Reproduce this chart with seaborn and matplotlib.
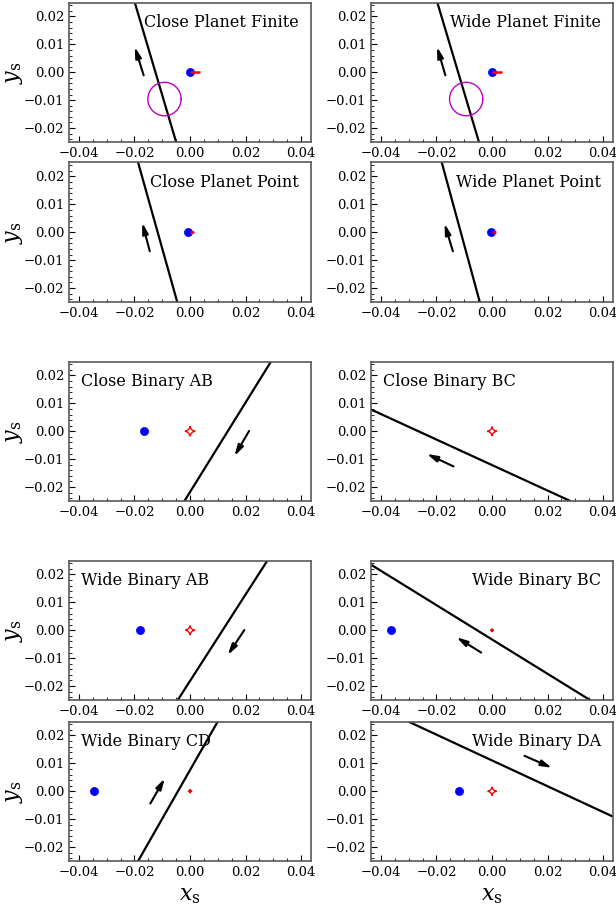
import numpy as np
import pandas as pd
import matplotlib
matplotlib.use("Agg")
import matplotlib.pyplot as plt
from matplotlib.ticker import AutoMinorLocator, MultipleLocator
import seaborn as sns

# ---------------- data ----------------
titles = ["Close Planet Finite", "Wide Planet Finite",
          "Close Planet Point", "Wide Planet Point",
          "Close Binary AB", "Close Binary BC",
          "Wide Binary AB", "Wide Binary BC",
          "Wide Binary CD", "Wide Binary DA"]
title_side = ["right", "right", "right", "right", "left", "left",
              "left", "right", "left", "right"]

# source trajectory (two end points)
traj_x0 = [-0.0199, -0.0197, -0.0187, -0.0181, -0.0020, -0.0436, -0.0044, -0.0436, -0.0187, -0.0302]
traj_y0 = [0.025, 0.025, 0.025, 0.025, -0.025, 0.0078, -0.025, 0.0235, -0.025, 0.025]
traj_x1 = [-0.0050, -0.0047, -0.0046, -0.0044, 0.0292, 0.0282, 0.0279, 0.0353, 0.0100, 0.0436]
traj_y1 = [-0.025, -0.025, -0.025, -0.025, 0.025, -0.025, 0.025, -0.025, 0.025, -0.0091]

# direction arrows (start -> tip)
arr_x0 = [-0.0167, -0.0168, -0.0145, -0.0141, 0.0213, -0.0139, 0.0196, -0.0039, -0.0143, 0.0117]
arr_y0 = [-0.0011, -0.0011, -0.0068, -0.0068, 0.0001, -0.0126, 0.0001, -0.0080, -0.0044, 0.0127]
arr_x1 = [-0.0199, -0.0198, -0.0172, -0.0171, 0.0160, -0.0235, 0.0136, -0.0128, -0.0091, 0.0216]
arr_y1 = [0.0091, 0.0091, 0.0034, 0.0031, -0.0089, -0.0081, -0.0089, -0.0025, 0.0046, 0.0084]

# lens position (blue dot); None = outside view
lens_x = [0.0, 0.0, -0.0008, -0.0005, -0.0167, None, -0.0179, -0.0364, -0.0345, -0.0119]
lens_y = [0.0, 0.0, 0.0, 0.0, 0.0, None, 0.0, 0.0, 0.0, 0.0]

# caustics: planets -> red segment length; binaries -> astroid half-size
caustic_kind = ["seg", "seg", "seg", "seg", "ast", "ast", "ast", "ast", "ast", "ast"]
caustic_size = [0.0035, 0.0037, 0.0013, 0.0013, 0.0017, 0.0016, 0.0016, 0.0005, 0.0006, 0.0015]

# finite source circle
circ_x = [-0.0092, -0.0093, None, None, None, None, None, None, None, None]
circ_y = [-0.0096, -0.0096, None, None, None, None, None, None, None, None]
circ_r = [0.006, 0.006, None, None, None, None, None, None, None, None]

xlim = (-0.0436, 0.0436)
ylim = (-0.025, 0.025)

# ---------------- style ----------------
sns.set_style("white")
plt.rcParams["font.family"] = ["DejaVu Serif"]
plt.rcParams["mathtext.fontset"] = "dejavuserif"
plt.rcParams["text.color"] = "black"
plt.rcParams["axes.labelcolor"] = "black"
plt.rcParams["axes.unicode_minus"] = True

fig = plt.figure(figsize=(6.16, 9.10), dpi=100)

col_left = [69 / 616, 371 / 616]
ax_w = 242 / 616
row_bottom_px = [142, 302, 501, 700, 861]
ax_h = 139.5 / 910

t = np.linspace(0, 2 * np.pi, 200)

for i, title in enumerate(titles):
    r, c = divmod(i, 2)
    ax = fig.add_axes([col_left[c], 1 - row_bottom_px[r] / 910, ax_w, ax_h])

    # trajectory
    df = pd.DataFrame({"x": [traj_x0[i], traj_x1[i]], "y": [traj_y0[i], traj_y1[i]]})
    sns.lineplot(data=df, x="x", y="y", ax=ax, color="black", lw=1.6, sort=False)

    # finite source circle
    if circ_r[i] is not None:
        ax.plot(circ_x[i] + circ_r[i] * np.cos(t), circ_y[i] + circ_r[i] * np.sin(t),
                color="m", lw=1.0)

    # lens
    if lens_x[i] is not None:
        sns.scatterplot(x=[lens_x[i]], y=[lens_y[i]], ax=ax, color="blue", s=34,
                        edgecolor="blue", linewidth=0.5, zorder=3)

    # caustic
    a = caustic_size[i]
    if caustic_kind[i] == "seg":
        ax.plot([0, a], [0, 0], color="red", lw=1.8, zorder=4, solid_capstyle="butt")
    else:
        ax.plot(a * np.cos(t) ** 3, a * np.sin(t) ** 3, color="red", lw=1.0, zorder=4)

    # arrow
    ax.annotate("", xy=(arr_x1[i], arr_y1[i]), xytext=(arr_x0[i], arr_y0[i]),
                arrowprops=dict(arrowstyle="-|>,head_length=0.8,head_width=0.22",
                                color="black", lw=1.5,
                                mutation_scale=8, shrinkA=0, shrinkB=0))

    # title text
    if title_side[i] == "right":
        ax.text(0.95, 0.92, title, transform=ax.transAxes, ha="right", va="top", fontsize=11.5)
    else:
        ax.text(0.05, 0.92, title, transform=ax.transAxes, ha="left", va="top", fontsize=11.5)

    ax.set_xlim(*xlim)
    ax.set_ylim(*ylim)
    ax.xaxis.set_major_locator(MultipleLocator(0.02))
    ax.yaxis.set_major_locator(MultipleLocator(0.01))
    ax.xaxis.set_minor_locator(AutoMinorLocator(4))
    ax.yaxis.set_minor_locator(AutoMinorLocator(5))
    ax.tick_params(which="both", direction="in", bottom=True, left=True,
                   top=False, right=False, labelsize=9.5, colors="black")
    ax.tick_params(which="major", length=4, width=0.8)
    ax.tick_params(which="minor", length=2, width=0.6)
    for sp in ax.spines.values():
        sp.set_color("0.35")
        sp.set_linewidth(1.2)

    ax.set_xlabel("")
    ax.set_ylabel("")
    if c == 0:
        ax.set_ylabel(r"$y_{\rm s}$", fontsize=16, labelpad=-1)
    if r == 4:
        ax.set_xlabel(r"$x_{\rm s}$", fontsize=16, labelpad=4)

fig.savefig("out.png", dpi=100)
